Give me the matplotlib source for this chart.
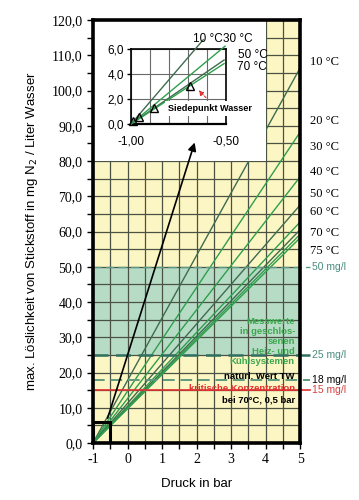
import numpy as np
import matplotlib
matplotlib.use('Agg')
import matplotlib.pyplot as plt
from matplotlib.patches import Rectangle

# solubility lines: value read at 5 bar, all lines start at (-1 bar, 0)
temps = ['10 °C', '20 °C', '30 °C', '40 °C', '50 °C', '60 °C', '70 °C', '75 °C']
val_at_5bar = [106.4, 88.2, 75.5, 67.5, 62.7, 60.5, 59.2, 58.2]
dark_line = [True, False, False, True, False, True, False, False]

# zoomed part (inset)
inset_temps = ['10 °C', '30 °C', '50 °C', '70 °C']
inset_boil_p = [-0.988, -0.958, -0.877, -0.69]   # Siedepunkt (bar ueberdruck)

limits = [50, 25, 18, 15]
limit_labels = ['50 mg/l', '25 mg/l', '18 mg/l', '15 mg/l']

xticks = [-1, 0, 1, 2, 3, 4, 5]
yticks = np.arange(0, 121, 10)

SERIF = 'Liberation Serif'
SANS = 'Liberation Sans'
DARK = '#3f6b50'
GREEN = '#2f9e4e'

slope = dict(zip(temps, np.array(val_at_5bar) / 6.0))
color = dict(zip(temps, [DARK if d else GREEN for d in dark_line]))

fig = plt.figure(figsize=(3.59, 5.0), dpi=100)
ax = fig.add_axes([0.259, 0.114, 0.577, 0.846])
ax.set_xlim(-1, 5)
ax.set_ylim(0, 120)
ax.set_facecolor('#fcf6c4')
ax.axhspan(25, 50, color='#b7dcc5', zorder=0.2, lw=0)

ax.set_xticks(xticks)
ax.set_xticklabels([str(t) for t in xticks], fontfamily=SERIF, fontsize=10)
ax.set_xticks(np.arange(-1, 5.01, 0.5), minor=True)
ax.set_yticks(yticks)
ax.set_yticklabels([('%.1f' % t).replace('.', ',') for t in yticks], fontfamily=SERIF, fontsize=10)
ax.set_yticks(np.arange(0, 121, 5), minor=True)
ax.tick_params(which='both', direction='out', length=4, width=1)
ax.set_axisbelow(True)
ax.grid(which='both', color='#4b5244', lw=0.9)
for s in ax.spines.values():
    s.set_linewidth(2.6)
    s.set_zorder(6)

# temperature lines
x = np.array([-1.0, 5.0])
for t in temps:
    ax.plot(x, slope[t] * (x + 1), color=color[t], lw=1.0, zorder=2)

# limit lines
ax.plot([-1, 5.3], [50, 50], color='#5a9a88', lw=1.0, ls=(0, (6, 3)), clip_on=False, zorder=2.5)
ax.plot([-1, 5.3], [25, 25], color='#2f7060', lw=1.8, ls=(0, (6, 3)), clip_on=False, zorder=2.5)
ax.plot([-1, 5.3], [18, 18], color='#5e9a7e', lw=1.4, ls=(0, (6, 3)), clip_on=False, zorder=2.5)
ax.plot([-1, 5.3], [15, 15], color='#e03030', lw=1.2, clip_on=False, zorder=2.5)
lab_col = ['#4a8c80', '#4a8c80', 'black', '#d84040']
for v, lab, c in zip(limits, limit_labels, lab_col):
    ax.text(5.33, v, lab, color=c, fontfamily=SANS, fontsize=7.5, va='center', ha='left')

# temperature labels at the right
label_y = [108.1, 91.3, 84.0, 76.9, 70.6, 65.5, 59.6, 54.5]
for t, ly in zip(temps, label_y):
    ax.text(5.28, ly, t, fontfamily=SERIF, fontsize=9, va='center', ha='left')

# texts in the chart
green_txt = ['Messwerte', 'in geschlos-', 'senen', 'Heiz- und', 'Kühlsystemen']
for i, s in enumerate(green_txt):
    ax.text(4.85, 34.6 - i * 2.84, s, color='#3ca84e', fontfamily=SANS, fontsize=6.8,
            fontweight='bold', ha='right', va='center', zorder=3)
ax.text(4.85, 18.8, 'natürl. Wert TW', color='black', fontfamily=SANS, fontsize=6.8,
        fontweight='bold', ha='right', va='center', zorder=3)
ax.text(4.85, 15.4, 'kritische Konzentration', color='#e03030', fontfamily=SANS, fontsize=6.8,
        fontweight='bold', ha='right', va='center', zorder=2)
ax.text(4.85, 12.3, 'bei 70°C, 0,5 bar', color='black', fontfamily=SANS, fontsize=6.8,
        fontweight='bold', ha='right', va='center', zorder=3)

# white area for the inset, small box and arrow
ax.add_patch(Rectangle((-1, 80), 5, 40, facecolor='white', edgecolor='none', zorder=3))
ax.add_patch(Rectangle((-1, 0), 0.5, 6, fill=False, edgecolor='black', lw=2.2, zorder=5))
ax.annotate('', xy=(1.97, 86.0), xytext=(-0.6, 6.3),
            arrowprops=dict(arrowstyle='-|>', color='black', lw=1.2, mutation_scale=12), zorder=5)

ax.set_xlabel('Druck in bar', fontfamily=SANS, fontsize=9.5, labelpad=8)
ax.set_ylabel('max. Löslichkeit von Stickstoff in mg N$_2$ / Liter Wasser', fontfamily=SANS,
              fontsize=9.5, labelpad=8)

# inset
ins = fig.add_axes([0.365, 0.752, 0.2646, 0.15])
ins.set_xlim(-1.0, -0.5)
ins.set_ylim(0, 6)
ins.set_facecolor('white')
ins.set_xticks([-1.0, -0.5])
ins.set_xticklabels(['-1,00', '-0,50'], fontfamily=SANS, fontsize=8.5)
ins.set_xticks(np.arange(-1.0, -0.49, 0.1), minor=True)
ins.set_yticks([0, 2, 4, 6])
ins.set_yticklabels(['0,0', '2,0', '4,0', '6,0'], fontfamily=SANS, fontsize=8.5)
ins.tick_params(axis='x', which='both', length=0, pad=8)
ins.tick_params(axis='y', length=3, width=1, pad=2)
ins.grid(which='both', color='#6a6a6a', lw=0.8)
ins.set_axisbelow(True)
for s in ins.spines.values():
    s.set_linewidth(1.2)
ins.spines['bottom'].set_linewidth(1.6)

inset_xend = [-0.62, -0.505, -0.51, -0.51]
inset_col = [DARK, GREEN, DARK, GREEN]
for t, xe, c, pb in zip(inset_temps, inset_xend, inset_col, inset_boil_p):
    xx = np.array([-1.0, xe])
    ins.plot(xx, slope[t] * (xx + 1), color=c, lw=1.0, clip_on=False, zorder=3)
    ins.plot([pb], [slope[t] * (pb + 1)], marker='^', ms=6, mfc='none', mec='black',
             mew=1.0, clip_on=False, zorder=4)

ins_lab_pos = [(-0.674, 6.83), (-0.516, 6.83), (-0.437, 5.54), (-0.442, 4.58)]
for t, (lx, ly) in zip(inset_temps, ins_lab_pos):
    ins.text(lx, ly, t, fontfamily=SANS, fontsize=8.5, ha='left', va='center', clip_on=False)

ins.text(-0.805, 1.25, 'Siedepunkt Wasser', fontfamily=SANS, fontsize=6.6, fontweight='bold',
         ha='left', va='center', clip_on=False, zorder=5,
         bbox=dict(facecolor='white', edgecolor='none', pad=2))
ins.annotate('', xy=(-0.655, 2.85), xytext=(-0.595, 1.95),
             arrowprops=dict(arrowstyle='-|>', color='#e03030', lw=0.8, ls=(0, (2, 1.5)),
                             mutation_scale=7), zorder=6)

plt.savefig('out.png', dpi=100)
